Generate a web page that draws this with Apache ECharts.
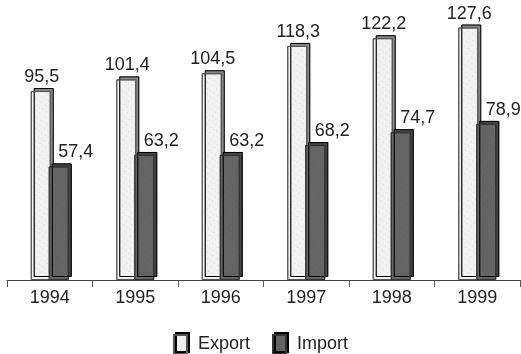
<!DOCTYPE html>
<html>
<head>
<meta charset="utf-8">
<script src="https://cdn.jsdelivr.net/npm/echarts@6/dist/echarts.min.js"></script>
<style>html,body{margin:0;padding:0;background:#fff}#c{width:521px;height:354px}</style>
</head>
<body>
<div id="c"></div>
<script>
const years = ['1994', '1995', '1996', '1997', '1998', '1999'];
const exportValues = [95.5, 101.4, 104.5, 118.3, 122.2, 127.6];
const importValues = [57.4, 63.2, 63.2, 68.2, 74.7, 78.9];
const seriesNames = ['Export', 'Import'];

const fmt = p => String(p.value).replace('.', ',');
const font = 'Liberation Sans, Arial, sans-serif';

const chart = echarts.init(document.getElementById('c'), null, {renderer: 'canvas'});
chart.setOption({
  animation: false,
  backgroundColor: '#ffffff',
  textStyle: {fontFamily: font},
  grid: {left: 7, right: 1, top: 3, bottom: 74, containLabel: false},
  legend: {
    data: seriesNames,
    top: 329,
    left: 'center',
    icon: 'rect',
    itemWidth: 13,
    itemHeight: 19,
    itemGap: 22,
    itemStyle: {shadowBlur: 0, shadowOffsetX: 2, shadowOffsetY: -2},
    textStyle: {fontSize: 18, color: '#222', fontFamily: font, padding: [0, 0, 0, 6]}
  },
  xAxis: {
    type: 'category',
    data: years,
    axisLine: {lineStyle: {color: '#444', width: 1.2}},
    axisTick: {show: true, length: 7, lineStyle: {color: '#555'}},
    axisLabel: {fontSize: 18, color: '#222', margin: 9, fontFamily: font}
  },
  yAxis: {
    type: 'value', min: 0, max: 140, show: false,
    splitLine: {show: false}
  },
  series: [
    {
      name: 'Export', type: 'bar', data: exportValues,
      barWidth: 20, barGap: '-10%',
      itemStyle: {
        color: '#f2f2f2', borderColor: '#555', borderWidth: 1,
        shadowBlur: 0, shadowOffsetX: 3, shadowOffsetY: -3, shadowColor: '#888',
        decal: {symbol: 'rect', symbolSize: 0.3, color: 'rgba(90,90,90,0.6)',
                dashArrayX: [[1, 5], [1, 3]], dashArrayY: [1, 4], rotation: 0.6}
      },
      label: {show: true, position: 'top', distance: 5, fontSize: 18, color: '#222',
              fontFamily: font, formatter: fmt, offset: [1, 0]}
    },
    {
      name: 'Import', type: 'bar', data: importValues,
      barWidth: 20,
      itemStyle: {
        color: '#676767', borderColor: '#333', borderWidth: 1,
        shadowBlur: 0, shadowOffsetX: 3, shadowOffsetY: -3, shadowColor: '#444',
        decal: {symbol: 'rect', symbolSize: 0.4, color: 'rgba(40,40,40,0.5)',
                dashArrayX: [[1, 2], [1, 1]], dashArrayY: [1, 2], rotation: 0.5}
      },
      label: {show: true, position: 'top', distance: 5, fontSize: 18, color: '#222',
              fontFamily: font, formatter: fmt, offset: [17, 0]}
    }
  ]
});
</script>
</body>
</html>
